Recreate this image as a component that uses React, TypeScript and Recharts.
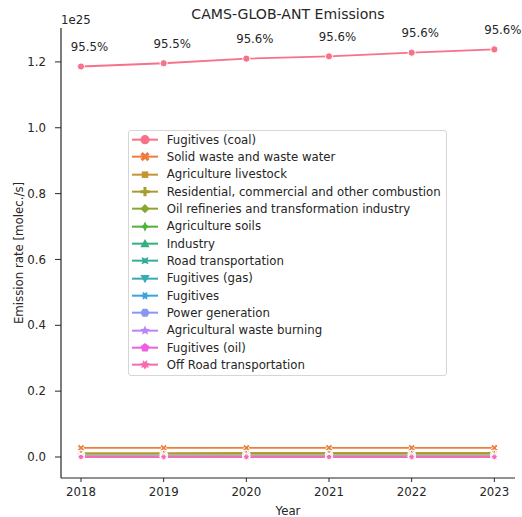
import React from "react";
import { LineChart, Line, XAxis, YAxis, Legend, LabelList } from "recharts";

const YEARS = [2018, 2019, 2020, 2021, 2022, 2023];

const SECTORS = [
  "Fugitives (coal)",
  "Solid waste and waste water",
  "Agriculture livestock",
  "Residential, commercial and other combustion",
  "Oil refineries and transformation industry",
  "Agriculture soils",
  "Industry",
  "Road transportation",
  "Fugitives (gas)",
  "Fugitives",
  "Power generation",
  "Agricultural waste burning",
  "Fugitives (oil)",
  "Off Road transportation",
];

// emission rates in units of 1e25 molec./s
const FUGITIVES_COAL = [1.186, 1.196, 1.21, 1.217, 1.228, 1.238];
const SOLID_WASTE = [0.0274, 0.0275, 0.0275, 0.0276, 0.0276, 0.0277];
const AGRI_LIVESTOCK = [0.012, 0.012, 0.0121, 0.0121, 0.0122, 0.0122];
const RESIDENTIAL = [0.0096, 0.0096, 0.0095, 0.0095, 0.0095, 0.0094];
const OIL_REFINERIES = [0.0012, 0.0012, 0.0012, 0.0012, 0.0012, 0.0012];
const AGRI_SOILS = [0.0003, 0.0003, 0.0003, 0.0003, 0.0003, 0.0003];
const INDUSTRY = [0.0009, 0.0009, 0.0009, 0.0009, 0.0009, 0.0009];
const ROAD = [0.0004, 0.0004, 0.0004, 0.0004, 0.0004, 0.0004];
const FUGITIVES_GAS = [0.001, 0.001, 0.001, 0.001, 0.001, 0.001];
const FUGITIVES = [0.0004, 0.0004, 0.0004, 0.0004, 0.0004, 0.0004];
const POWER = [0.0007, 0.0007, 0.0007, 0.0007, 0.0007, 0.0007];
const AGRI_WASTE_BURNING = [0.0005, 0.0005, 0.0005, 0.0005, 0.0005, 0.0005];
const FUGITIVES_OIL = [0.0009, 0.0009, 0.0009, 0.0009, 0.0009, 0.0009];
const OFF_ROAD = [0.0001, 0.0001, 0.0001, 0.0001, 0.0001, 0.0001];

const SECTOR_VALUES = [
  FUGITIVES_COAL,
  SOLID_WASTE,
  AGRI_LIVESTOCK,
  RESIDENTIAL,
  OIL_REFINERIES,
  AGRI_SOILS,
  INDUSTRY,
  ROAD,
  FUGITIVES_GAS,
  FUGITIVES,
  POWER,
  AGRI_WASTE_BURNING,
  FUGITIVES_OIL,
  OFF_ROAD,
];

// share of the top sector, written above its points
const COAL_SHARE = ["95.5%", "95.5%", "95.6%", "95.6%", "95.6%", "95.6%"];

const Y_TICKS = [0, 0.2, 0.4, 0.6, 0.8, 1.0, 1.2];

const COLORS = [
  "#f77189", "#ee7d3b", "#c59433", "#a69d31", "#88a731", "#4fb23a", "#34af7f",
  "#36ad9a", "#38a9b5", "#3aa4dc", "#8798f4", "#bb86f4", "#ee5fe0", "#f66bb4",
];
const MARKERS = [
  "o", "X", "s", "P", "D", "star4", "^", "star4r", "v", "star6", "hex", "star5", "pent", "star7",
];

const FONT = "DejaVu Sans, sans-serif";
const INK = "#262626";

const data = YEARS.map((year, i) => {
  const row: Record<string, number> = { year };
  SECTOR_VALUES.forEach((vals, s) => (row["s" + s] = vals[i]));
  return row;
});

function toPath(pts: number[][]) {
  return "M" + pts.map((p) => p[0].toFixed(2) + "," + p[1].toFixed(2)).join("L") + "Z";
}

function polygon(cx: number, cy: number, n: number, R: number, rot: number, inner = 0) {
  const count = inner ? n * 2 : n;
  const pts: number[][] = [];
  for (let i = 0; i < count; i++) {
    const a = Math.PI / 2 + (2 * Math.PI * i) / count + (rot * Math.PI) / 180;
    const r = inner && i % 2 === 1 ? R * inner : R;
    pts.push([cx + r * Math.cos(a), cy - r * Math.sin(a)]);
  }
  return toPath(pts);
}

function markerPath(kind: string, cx: number, cy: number, R: number) {
  const S = 0.381966;
  switch (kind) {
    case "X": {
      const k = R / 2;
      const p = [[-1, -2], [0, -1], [1, -2], [2, -1], [1, 0], [2, 1], [1, 2], [0, 1], [-1, 2], [-2, 1], [-1, 0], [-2, -1]];
      return toPath(p.map(([x, y]) => [cx + x * k, cy + y * k]));
    }
    case "P": {
      const k = R / 3;
      const p = [[-1, -3], [1, -3], [1, -1], [3, -1], [3, 1], [1, 1], [1, 3], [-1, 3], [-1, 1], [-3, 1], [-3, -1], [-1, -1]];
      return toPath(p.map(([x, y]) => [cx + x * k, cy + y * k]));
    }
    case "s":
      return polygon(cx, cy, 4, R, 45);
    case "D":
      return polygon(cx, cy, 4, R, 0);
    case "star4":
      return polygon(cx, cy, 4, R * 1.1, 0, 0.45);
    case "star4r":
      return polygon(cx, cy, 4, R * 1.1, 45, 0.45);
    case "^":
      return toPath([[cx, cy - R], [cx - R, cy + R * 0.8], [cx + R, cy + R * 0.8]]);
    case "v":
      return toPath([[cx, cy + R], [cx - R, cy - R * 0.8], [cx + R, cy - R * 0.8]]);
    case "star6":
      return polygon(cx, cy, 6, R, 30, 0.55);
    case "hex":
      return polygon(cx, cy, 6, R, 30);
    case "star5":
      return polygon(cx, cy, 5, R * 1.1, 0, S + 0.1);
    case "pent":
      return polygon(cx, cy, 5, R, 0);
    default:
      return polygon(cx, cy, 7, R * 1.1, 25.7, 0.55);
  }
}

function Marker({ kind, cx, cy, r, fill, edge }: any) {
  if (kind === "o") {
    return <circle cx={cx} cy={cy} r={r} fill={fill} stroke={edge} strokeWidth={edge ? 1 : 0} />;
  }
  return <path d={markerPath(kind, cx, cy, r)} fill={fill} stroke={edge || "none"} strokeWidth={edge ? 1 : 0} />;
}

const ROW_H = 17.33;

const renderLegend = () => (
  <div
    style={{
      width: 319,
      height: 246,
      boxSizing: "border-box",
      border: "1px solid #d6d6d6",
      borderRadius: 3,
      background: "rgba(255,255,255,0.8)",
      position: "relative",
      fontFamily: FONT,
    }}
  >
    {SECTORS.map((name, i) => (
      <div
        key={name}
        style={{ position: "absolute", left: 0, top: i * ROW_H, height: ROW_H, display: "flex", alignItems: "center" }}
      >
        <svg width={34} height={ROW_H} style={{ display: "block" }}>
          <line x1={3} x2={29} y1={ROW_H / 2} y2={ROW_H / 2} stroke={COLORS[i]} strokeWidth={2} />
          <Marker kind={MARKERS[i]} cx={16} cy={ROW_H / 2} r={4.6} fill={COLORS[i]} />
        </svg>
        <span style={{ marginLeft: 3.7, fontSize: 11.75, color: INK, whiteSpace: "nowrap", lineHeight: "14px" }}>
          {name}
        </span>
      </div>
    ))}
  </div>
);

const ShareLabel = (props: any) => {
  const { x, y, index } = props;
  return (
    <text x={x + 8.5} y={y - 15.5} textAnchor="middle" fontSize={11.75} fontFamily={FONT} fill={INK}>
      {COAL_SHARE[index]}
    </text>
  );
};

const YLabel = (props: any) => {
  const { viewBox } = props;
  const cx = viewBox.x + 19;
  const cy = viewBox.y + viewBox.height / 2;
  return (
    <text x={cx} y={cy} transform={`rotate(-90 ${cx} ${cy})`} textAnchor="middle" dominantBaseline="central" fontSize={11.75} fontFamily={FONT} fill={INK}>
      Emission rate [molec./s]
    </text>
  );
};

const XLabel = (props: any) => {
  const { viewBox } = props;
  return (
    <text x={viewBox.x + viewBox.width / 2} y={viewBox.y + 33} textAnchor="middle" dominantBaseline="central" fontSize={11.75} fontFamily={FONT} fill={INK}>
      Year
    </text>
  );
};

export default function App() {
  const tickStyle = { fontSize: 11.75, fontFamily: FONT, fill: INK };
  return (
    <div style={{ position: "absolute", left: 0, top: 0, width: 522, height: 517, background: "#fff", fontFamily: FONT }}>
      <div style={{ position: "absolute", left: 61, width: 454, top: 6, textAlign: "center", fontSize: 14.1, lineHeight: "17px", color: INK }}>
        CAMS-GLOB-ANT Emissions
      </div>
      <div style={{ position: "absolute", left: 61, top: 13, fontSize: 11.75, lineHeight: "14px", color: INK }}>1e25</div>
      <LineChart width={522} height={517} data={data} margin={{ top: 28, right: 7, bottom: 0, left: 0 }}>
        <XAxis
          dataKey="year"
          type="number"
          domain={[2017.758, 2023.25]}
          allowDataOverflow
          ticks={YEARS}
          height={39}
          tickSize={4}
          tickMargin={6}
          tick={tickStyle}
          axisLine={{ stroke: INK, strokeWidth: 1.2 }}
          tickLine={{ stroke: INK, strokeWidth: 1 }}
          label={<XLabel />}
        />
        <YAxis
          type="number"
          domain={[-0.0638, 1.303]}
          allowDataOverflow
          ticks={Y_TICKS}
          width={61}
          tickSize={6}
          tickMargin={9}
          tick={tickStyle}
          tickFormatter={(v: number) => v.toFixed(1)}
          axisLine={{ stroke: INK, strokeWidth: 1.2 }}
          tickLine={{ stroke: INK, strokeWidth: 1 }}
          label={<YLabel />}
        />
        <Legend
          layout="vertical"
          align="center"
          verticalAlign="middle"
          content={renderLegend}
          wrapperStyle={{ left: 128, top: 130, width: 319, height: 246 }}
        />
        {SECTORS.map((name, s) => (
          <Line
            key={name}
            name={name}
            dataKey={"s" + s}
            type="linear"
            stroke={COLORS[s]}
            strokeWidth={1.8}
            isAnimationActive={false}
            dot={(p: any) => (
              <Marker key={name + p.index} kind={MARKERS[s]} cx={p.cx} cy={p.cy} r={3.6} fill={COLORS[s]} edge="#fff" />
            )}
            activeDot={false}
          >
            {s === 0 ? <LabelList dataKey={"s0"} content={<ShareLabel />} /> : null}
          </Line>
        ))}
      </LineChart>
    </div>
  );
}
